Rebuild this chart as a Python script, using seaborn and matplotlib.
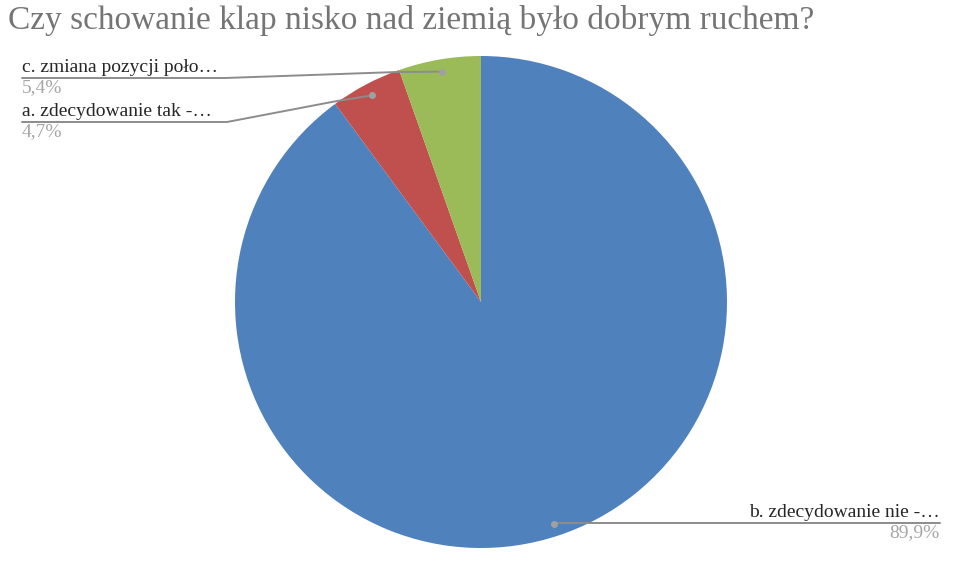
import numpy as np
import matplotlib.pyplot as plt
import seaborn as sns

title = "Czy schowanie klap nisko nad ziemią było dobrym ruchem?"
labels = ["b. zdecydowanie nie -…", "a. zdecydowanie tak -…", "c. zmiana pozycji poło…"]
pct_text = ["89,9%", "4,7%", "5,4%"]
values = [89.9, 4.7, 5.4]
colors = ["#4F81BD", "#C0504D", "#9BBB59"]

sns.set_theme(style="white")
plt.rcParams['font.family'] = ['Liberation Serif', 'DejaVu Serif']

W, H = 976, 578
fig = plt.figure(figsize=(W / 100, H / 100), dpi=100)


def fx(px):
    return px / W


def fy(py):
    return 1 - py / H


# pie area: centre (481, 302), radius 246 px
ax = fig.add_axes([fx(235), fy(548), 492 / W, 492 / H])
wedges, _ = ax.pie(values, colors=colors, startangle=90, counterclock=False,
                   radius=1, wedgeprops=dict(linewidth=0))
ax.set_xlim(-1, 1)
ax.set_ylim(-1, 1)
ax.set_aspect('auto')
ax.axis('off')

fig.text(fx(8), fy(21), title, fontsize=24, color="#757575", va='center', ha='left')

line_c = "#8c8c8c"
# anchor dots at the wedge midpoints
dots = {}
for w, lab in zip(wedges, labels):
    ang = np.deg2rad((w.theta1 + w.theta2) / 2)
    x, y = 0.95 * np.cos(ang), 0.95 * np.sin(ang)
    disp = ax.transData.transform((x, y))
    dots[lab] = (disp[0], H - disp[1])

# label layout: (text x, underline y, underline start, underline end, elbow, align)
layout = {
    labels[2]: (22, 78, 22, 225, (397, 72), 'left'),
    labels[1]: (22, 122, 22, 227, (337, 101), 'left'),
    labels[0]: (940, 523, 940, None, None, 'right'),
}

for lab, pct in zip(labels, pct_text):
    tx, uy, u0, u1, elbow, ha = layout[lab]
    dx, dy = dots[lab]
    if elbow is None:
        xs = [u0, dx]
        ys = [uy, uy]
    else:
        xs = [u0, u1, elbow[0], dx]
        ys = [uy, uy, elbow[1], dy]
    fig.add_artist(plt.Line2D([fx(v) for v in xs], [fy(v) for v in ys],
                              color=line_c, lw=1.4, transform=fig.transFigure))
    fig.add_artist(plt.Line2D([fx(dx)], [fy(dy)], marker='o', ms=4,
                              color="#a0a0a0", transform=fig.transFigure))
    fig.text(fx(tx), fy(uy - 2), lab, fontsize=14, color="#262626", ha=ha, va='bottom')
    fig.text(fx(tx), fy(uy + 1), pct, fontsize=14, color="#a6a6a6", ha=ha, va='top')

fig.savefig("out.png", dpi=100, facecolor='white')
